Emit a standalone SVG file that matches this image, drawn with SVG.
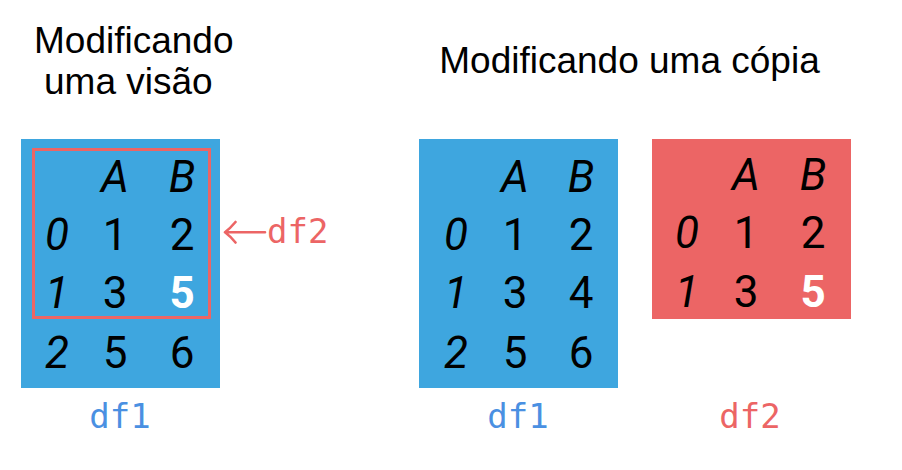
<svg xmlns="http://www.w3.org/2000/svg" width="902" height="470" viewBox="0 0 902 470">
<style>
.title{font-family:"Liberation Sans",Arial,sans-serif;font-size:37px;fill:#000}
.c{font-family:Roboto,"Liberation Sans",sans-serif;font-size:44px;fill:#000;text-anchor:middle}
.i{font-style:italic}
.w{fill:#fff;font-weight:bold}
.lbl{font-family:"DejaVu Sans Mono",monospace;font-size:34px}
.mid{text-anchor:middle}
.blue{fill:#3ea6df}
.red{fill:#ec6565}
.lb{fill:#4a90e2}
.lr{fill:#ec6565}
.arrow{fill:none;stroke:#ec6565;stroke-width:2.6;stroke-linecap:round;stroke-linejoin:round}
</style>
<rect width="902" height="470" fill="#fff"/>
<text class="title" x="34" y="53">Modificando</text>
<text class="title" x="44" y="94">uma visão</text>
<text class="title" x="629.5" y="73" text-anchor="middle">Modificando uma cópia</text>
<g id="view-df1">
<rect class="blue" x="21" y="139" width="199" height="249"/>
<text class="c i" x="115" y="192">A</text>
<text class="c i" x="182" y="192">B</text>
<text class="c i" x="57" y="250">0</text>
<text class="c" x="115" y="250">1</text>
<text class="c" x="182" y="250">2</text>
<text class="c i" x="57" y="308">1</text>
<text class="c" x="115" y="308">3</text>
<text class="c w" x="182" y="308">5</text>
<text class="c i" x="57" y="368">2</text>
<text class="c" x="115" y="368">5</text>
<text class="c" x="182" y="368">6</text>
<rect x="33.5" y="149.5" width="176" height="168" fill="none" stroke="#ec6565" stroke-width="3"/>
<text class="lbl lb mid" x="120" y="428">df1</text>
</g>
<g id="view-df2-label">
<text class="lbl lr" x="267" y="243">df2</text>
</g>
<g id="copy-df1">
<rect class="blue" x="419" y="139" width="199" height="249"/>
<text class="c i" x="515" y="192">A</text>
<text class="c i" x="581" y="192">B</text>
<text class="c i" x="456" y="250">0</text>
<text class="c" x="515" y="250">1</text>
<text class="c" x="581" y="250">2</text>
<text class="c i" x="456" y="308">1</text>
<text class="c" x="515" y="308">3</text>
<text class="c" x="581" y="308">4</text>
<text class="c i" x="456" y="368">2</text>
<text class="c" x="515" y="368">5</text>
<text class="c" x="581" y="368">6</text>
<text class="lbl lb mid" x="518" y="428">df1</text>
</g>
<g id="copy-df2">
<rect class="red" x="652" y="139" width="199" height="180"/>
<text class="c i" x="746" y="190">A</text>
<text class="c i" x="813" y="190">B</text>
<text class="c i" x="687" y="248">0</text>
<text class="c" x="746" y="248">1</text>
<text class="c" x="813" y="248">2</text>
<text class="c i" x="687" y="307">1</text>
<text class="c" x="746" y="307">3</text>
<text class="c w" x="813" y="307">5</text>
<text class="lbl lr mid" x="750" y="428">df2</text>
</g>
<g id="connectors">
<path class="arrow" d="M265 232.3 H226 M235.5 222 Q230 228.5 225 232.3 Q230 236 235.5 242.5"/>
</g>
</svg>
